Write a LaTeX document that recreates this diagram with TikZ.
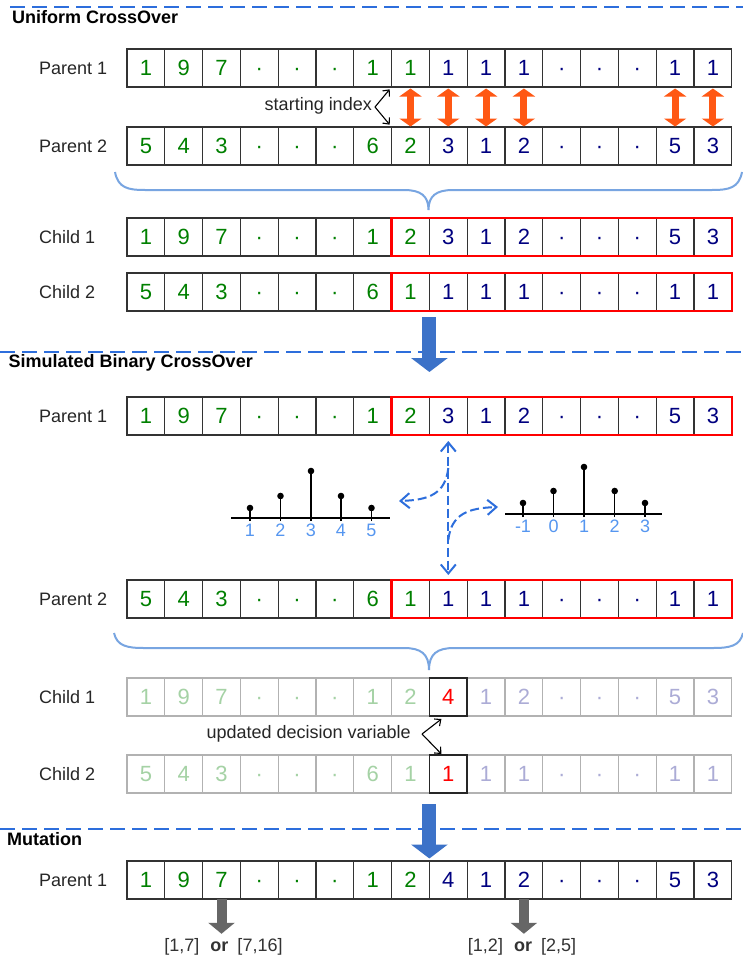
\documentclass[tikz,border=0pt]{standalone}
\usepackage{fontspec}
\setmainfont{Liberation Sans}
\usetikzlibrary{arrows.meta,calc}

% gene colours
\definecolor{gn}{RGB}{0,128,0}
\definecolor{nv}{RGB}{0,0,128}
\definecolor{fgn}{RGB}{165,210,165}
\definecolor{fnv}{RGB}{172,172,214}
\definecolor{rd}{RGB}{255,0,0}
% decoration colours
\definecolor{secBlue}{RGB}{45,110,220}
\definecolor{braceBlue}{RGB}{120,165,225}
\definecolor{swapOrange}{RGB}{255,88,20}
\definecolor{flowBlue}{RGB}{60,114,200}
\definecolor{axisBlue}{RGB}{85,150,240}

% one chromosome: name, y of the row centre, extra cell style, colour/gene list
\newcommand\chromrow[4]{%
  \foreach \cl/\tx [count=\i] in {#4}
    \node[cell,#3,text=\cl] (#1-\i) at ({127+37.8*(\i-0.5)},#2) {\tx};
}

\begin{document}
\begin{tikzpicture}[x=1pt,y=-1pt,
  cell/.style={draw=black!80, line width=1.3pt, minimum width=37.8pt,
    minimum height=38pt, inner sep=0pt, outer sep=0pt,
    text height=15.5pt, text depth=0pt,
    font=\fontsize{22}{26}\selectfont},
  faded/.style={draw=black!30},
  rowlabel/.style={anchor=west, inner sep=0pt, text=black!85,
    font=\fontsize{18}{22}\selectfont},
  title/.style={anchor=base west, inner sep=0pt,
    font=\bfseries\fontsize{18}{22}\selectfont},
  note/.style={inner sep=0pt, text=black!85, font=\fontsize{18}{22}\selectfont},
  secline/.style={draw=secBlue, line width=2pt, dash pattern=on 15pt off 7pt},
  brace/.style={draw=braceBlue, line width=2pt},
  redbox/.style={draw=rd, line width=2.6pt},
  swap/.style={draw=swapOrange, line width=7pt,
    {Triangle[length=8pt,width=22pt]}-{Triangle[length=8pt,width=22pt]}},
  flow/.style={draw=flowBlue, line width=14pt,
    -{Triangle[length=14pt,width=36pt]}},
  mutarrow/.style={draw=black!60, line width=10pt,
    -{Triangle[length=11pt,width=26pt]}},
  pointer/.style={draw=black, line width=1.1pt,
    -{Straight Barb[length=5pt,width=9pt]}},
  spread/.style={draw=secBlue, line width=2pt, dash pattern=on 9pt off 4pt},
  axislabel/.style={inner sep=0pt, text=axisBlue, font=\fontsize{18}{22}\selectfont}
]
\fill[white] (0,0) rectangle (743,958);
\useasboundingbox (0,0) rectangle (743,958);

% ---------------- section rules and titles ----------------
\draw[secline] (10,7) -- (743,7);
\draw[secline] (0,352) -- (743,352);
\draw[secline] (0,829) -- (743,829);
\node[title] (tUC) at (12,23.5) {Uniform CrossOver};
\node[title] (tSBX) at (8.5,367) {Simulated Binary CrossOver};
\node[title] (tMut) at (7,845) {Mutation};

% ---------------- uniform crossover ----------------
\node[rowlabel] (lp1u) at (39,68) {Parent 1};
\node[rowlabel] (lp2u) at (39,146) {Parent 2};
\node[rowlabel] (lc1u) at (39,237) {Child 1};
\node[rowlabel] (lc2u) at (39,292) {Child 2};

\chromrow{p1u}{68}{}{gn/1,gn/9,gn/7,gn/·,gn/·,gn/·,gn/1,gn/1,nv/1,nv/1,nv/1,nv/·,nv/·,nv/·,nv/1,nv/1}
\chromrow{p2u}{146}{}{gn/5,gn/4,gn/3,gn/·,gn/·,gn/·,gn/6,gn/2,nv/3,nv/1,nv/2,nv/·,nv/·,nv/·,nv/5,nv/3}
\chromrow{c1u}{237}{}{gn/1,gn/9,gn/7,gn/·,gn/·,gn/·,gn/1,gn/2,nv/3,nv/1,nv/2,nv/·,nv/·,nv/·,nv/5,nv/3}
\chromrow{c2u}{292}{}{gn/5,gn/4,gn/3,gn/·,gn/·,gn/·,gn/6,gn/1,nv/1,nv/1,nv/1,nv/·,nv/·,nv/·,nv/1,nv/1}

\draw[redbox] (c1u-8.north west) rectangle (c1u-16.south east);
\draw[redbox] (c2u-8.north west) rectangle (c2u-16.south east);

% swapped genes
\foreach \k in {8,9,10,11,15,16}
  \draw[swap] ([yshift=-1.5pt]p1u-\k.south) -- ([yshift=0.5pt]p2u-\k.north);

% starting index pointer
\node[note, anchor=east] (sitext) at (372,106) {starting index};
\coordinate (sitip) at (375,107);
\draw[pointer, shorten >=3pt] (sitip) -- (p1u-8.south west);
\draw[pointer, shorten >=3pt] (sitip) -- (p2u-8.north west);

% brace collecting the parents
\draw[brace] (115,172) .. controls (118,188) and (128,190) .. (145,190)
  -- (404,190) .. controls (421,190) and (428.5,196) .. (428.5,210)
  .. controls (428.5,196) and (436,190) .. (453,190)
  -- (712,190) .. controls (729,190) and (739,188) .. (742,172);

% ---------------- simulated binary crossover ----------------
\node[rowlabel] (lp1s) at (39,416) {Parent 1};
\node[rowlabel] (lp2s) at (39,599) {Parent 2};
\node[rowlabel] (lc1s) at (39,697) {Child 1};
\node[rowlabel] (lc2s) at (39,774) {Child 2};

\chromrow{p1s}{416}{}{gn/1,gn/9,gn/7,gn/·,gn/·,gn/·,gn/1,gn/2,nv/3,nv/1,nv/2,nv/·,nv/·,nv/·,nv/5,nv/3}
\chromrow{p2s}{599}{}{gn/5,gn/4,gn/3,gn/·,gn/·,gn/·,gn/6,gn/1,nv/1,nv/1,nv/1,nv/·,nv/·,nv/·,nv/1,nv/1}
\draw[redbox] (p1s-8.north west) rectangle (p1s-16.south east);
\draw[redbox] (p2s-8.north west) rectangle (p2s-16.south east);

% on from the uniform crossover
\draw[flow] ([yshift=-6pt]c2u-8.south east) -- ([yshift=25pt]p1s-8.north east);

\chromrow{c1s}{697}{faded}{fgn/1,fgn/9,fgn/7,fgn/·,fgn/·,fgn/·,fgn/1,fgn/2,rd/4,fnv/1,fnv/2,fnv/·,fnv/·,fnv/·,fnv/5,fnv/3}
\chromrow{c2s}{774}{faded}{fgn/5,fgn/4,fgn/3,fgn/·,fgn/·,fgn/·,fgn/6,fgn/1,rd/1,fnv/1,fnv/1,fnv/·,fnv/·,fnv/·,fnv/1,fnv/1}
\draw[black!85, line width=1.5pt] (c1s-9.north west) rectangle (c1s-9.south east);
\draw[black!85, line width=1.5pt] (c2s-9.north west) rectangle (c2s-9.south east);

% distribution of the spread factor (left) and of the offspring value (right)
\draw[line width=2.4pt] (231,518) -- (390,518);
\foreach \x/\h/\l [count=\j] in {250/508/1, 280.5/496/2, 311/471/3, 341/496/4, 371.5/508/5}{
  \draw[line width=1.3pt] (\x,521) -- (\x,\h);
  \fill (\x,\h) circle (3.3pt);
  \node[axislabel] (la\j) at (\x,530.5) {\l};
}
\draw[line width=2.4pt] (505,514) -- (662,514);
\foreach \x/\h/\l [count=\j] in {523/503/-1, 553.5/491/0, 584/467/1, 614.7/491/2, 645/503/3}{
  \draw[line width=1.3pt] (\x,517) -- (\x,\h);
  \fill (\x,\h) circle (3.3pt);
  \node[axislabel] (lb\j) at (\x,526) {\l};
}

% spread of the selected gene
\draw[spread, {Straight Barb[length=9pt,width=15pt]}-{Straight Barb[length=9pt,width=15pt]},
  shorten <=6pt, shorten >=5pt] (p1s-9.south) -- (p2s-9.north);
\coordinate (bendA) at ($(p1s-9.south)+(0,33)$);
\coordinate (tipL) at (399,501);
\coordinate (bendB) at ($(p2s-9.north)+(0,-40)$);
\coordinate (tipR) at (498,507);
\draw[spread, -{Straight Barb[length=9pt,width=15pt]}]
  (bendA) .. controls +(-3,26) and +(30,-1) .. (tipL);
\draw[spread, -{Straight Barb[length=9pt,width=15pt]}]
  (bendB) .. controls +(3,-26) and +(-30,1) .. (tipR);

% brace collecting the parents
\draw[brace] (114,633) .. controls (117,646) and (127,648) .. (144,648)
  -- (404,648) .. controls (421,648) and (429,654) .. (429,670)
  .. controls (429,654) and (437,648) .. (454,648)
  -- (713,648) .. controls (730,648) and (740,646) .. (743,633);

% updated decision variable pointer
\node[note, anchor=east] (udtext) at (411,734) {updated decision variable};
\coordinate (udtip) at (422,734);
\coordinate (udA) at ($(c1s-9.south west)+(12,3)$);
\coordinate (udB) at ($(c2s-9.north west)+(12,-1)$);
\draw[pointer] (udtip) -- (udA);
\draw[pointer] (udtip) -- (udB);

% ---------------- mutation ----------------
\node[rowlabel] (lm) at (39,880) {Parent 1};
\chromrow{m}{880}{}{gn/1,gn/9,gn/7,gn/·,gn/·,gn/·,gn/1,gn/2,nv/4,nv/1,nv/2,nv/·,nv/·,nv/·,nv/5,nv/3}

% on from the simulated binary crossover
\draw[flow] ([yshift=-11pt]c2s-8.south east) -- ([yshift=2.5pt]m-8.north east);

\node[note, anchor=base, text=black!80] (r1) at (223.5,951)
  {[1,7]\hspace{11pt}\textbf{or}\hspace{9pt}[7,16]};
\node[note, anchor=base, text=black!80] (r2) at (522,951)
  {[1,2]\hspace{11pt}\textbf{or}\hspace{9pt}[2,5]};
\draw[mutarrow, shorten >=4pt] (m-3.south) -- (m-3.south |- r1.north);
\draw[mutarrow, shorten >=4pt] (m-11.south) -- (m-11.south |- r2.north);
\end{tikzpicture}
\end{document}
